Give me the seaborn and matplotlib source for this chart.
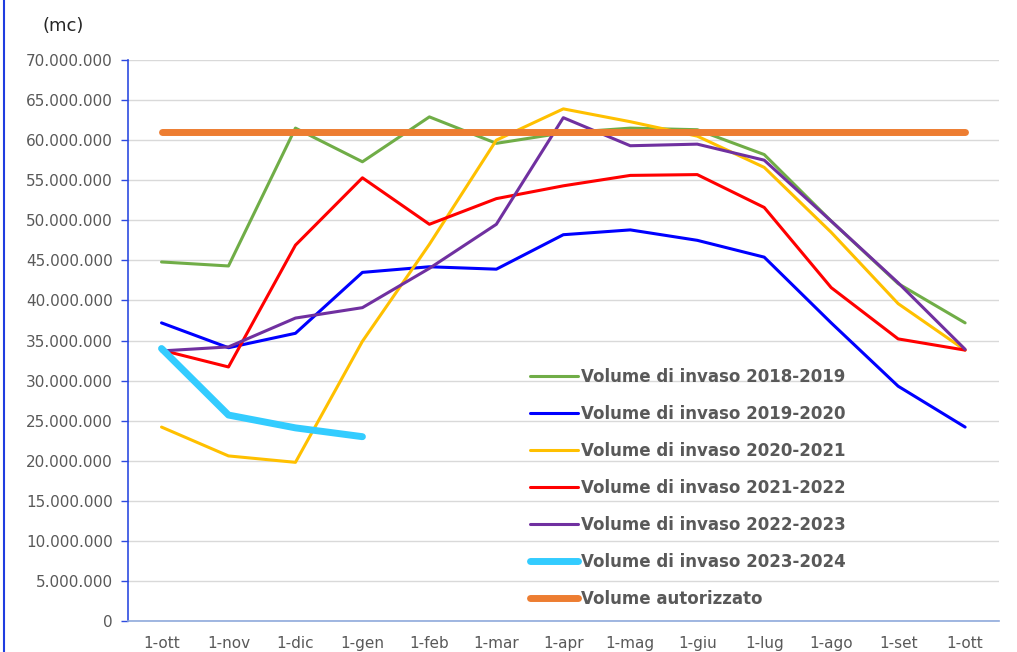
import matplotlib

matplotlib.use("Agg")
import matplotlib.pyplot as plt
import matplotlib.ticker as mticker
from matplotlib.lines import Line2D
import pandas as pd
import seaborn as sns

MONTHS = ["1-ott", "1-nov", "1-dic", "1-gen", "1-feb", "1-mar", "1-apr",
          "1-mag", "1-giu", "1-lug", "1-ago", "1-set", "1-ott"]

# volumi in milioni di mc
VOL_2018_2019 = [44.8, 44.3, 61.5, 57.3, 62.9, 59.6, 60.9, 61.5, 61.3, 58.2, 49.9, 42.1, 37.2]
VOL_2019_2020 = [37.2, 34.1, 35.9, 43.5, 44.2, 43.9, 48.2, 48.8, 47.5, 45.4, 37.2, 29.3, 24.2]
VOL_2020_2021 = [24.2, 20.6, 19.8, 34.9, 47.0, 60.0, 63.9, 62.3, 60.5, 56.6, 48.5, 39.6, 33.8]
VOL_2021_2022 = [33.8, 31.7, 46.9, 55.3, 49.5, 52.7, 54.3, 55.6, 55.7, 51.6, 41.6, 35.2, 33.8]
VOL_2022_2023 = [33.7, 34.2, 37.8, 39.1, 44.0, 49.5, 62.8, 59.3, 59.5, 57.5, 49.9, 42.2, 33.9]
VOL_2023_2024 = [34.0, 25.7, 24.1, 23.0]
VOL_AUTORIZZATO = [61.0] * 13

SERIES = [
    ("Volume di invaso 2018-2019", VOL_2018_2019, "#70AD47", 2.2),
    ("Volume di invaso 2019-2020", VOL_2019_2020, "#0000FF", 2.2),
    ("Volume di invaso 2020-2021", VOL_2020_2021, "#FFC000", 2.2),
    ("Volume di invaso 2021-2022", VOL_2021_2022, "#FF0000", 2.2),
    ("Volume di invaso 2022-2023", VOL_2022_2023, "#7030A0", 2.2),
    ("Volume di invaso 2023-2024", VOL_2023_2024, "#33CCFF", 5.0),
    ("Volume autorizzato", VOL_AUTORIZZATO, "#ED7D31", 5.0),
]

sns.set_theme(style="white")
plt.rcParams["font.family"] = ["DejaVu Sans"]

fig = plt.figure(figsize=(10.17, 6.52), dpi=100)
ax = fig.add_axes([0.1259, 0.0475, 0.856, 0.8605])

handles = []
for name, vals, color, lw in SERIES:
    df = pd.DataFrame({"pos": range(len(vals)), "vol": [v * 1e6 for v in vals]})
    sns.lineplot(data=df, x="pos", y="vol", color=color, linewidth=lw,
                 sort=False, ax=ax, solid_capstyle="round")
    handles.append(Line2D([], [], color=color, linewidth=lw, solid_capstyle="round"))

ax.set_xlim(-0.5, 12.5)
ax.set_ylim(0, 70e6)
ax.set_xlabel("")
ax.set_ylabel("")

ax.yaxis.set_major_locator(mticker.MultipleLocator(5e6))
ax.yaxis.set_major_formatter(
    mticker.FuncFormatter(lambda v, p: f"{int(round(v)):,}".replace(",", ".")))
ax.grid(axis="y", color="#D9D9D9", linewidth=1)
ax.set_axisbelow(True)

ax.set_xticks(range(13))
ax.set_xticklabels(MONTHS)
ax.set_xticks([i - 0.5 for i in range(14)], minor=True)
ax.tick_params(axis="x", which="major", length=0, pad=11, labelsize=11, labelcolor="#595959")
ax.tick_params(axis="x", which="minor", length=5, color="#8FAADC", width=1, direction="out")
ax.tick_params(axis="y", length=5, color="#2E4BE0", width=1, direction="out",
               labelsize=11, labelcolor="#595959", pad=6, left=True)

for s in ["top", "right"]:
    ax.spines[s].set_visible(False)
ax.spines["left"].set_color("#2E4BE0")
ax.spines["left"].set_linewidth(1.2)
ax.spines["bottom"].set_color("#8FAADC")
ax.spines["bottom"].set_linewidth(1.2)

fig.text(0.042, 0.96, "(mc)", fontsize=13, color="#262626", ha="left", va="center")

leg = ax.legend(handles, [s[0] for s in SERIES], loc="upper left",
                bbox_to_anchor=(0.521, 0.436), bbox_transform=fig.transFigure,
                frameon=False, handlelength=2.9, handletextpad=0.15,
                labelspacing=1.14, borderpad=0, borderaxespad=0,
                prop={"weight": "bold", "size": 12})
for t in leg.get_texts():
    t.set_color("#595959")

fig.add_artist(Line2D([0.004, 0.004], [0, 1], transform=fig.transFigure,
                      color="#1F3DE0", linewidth=1.5))

fig.savefig("out.png", dpi=100)
